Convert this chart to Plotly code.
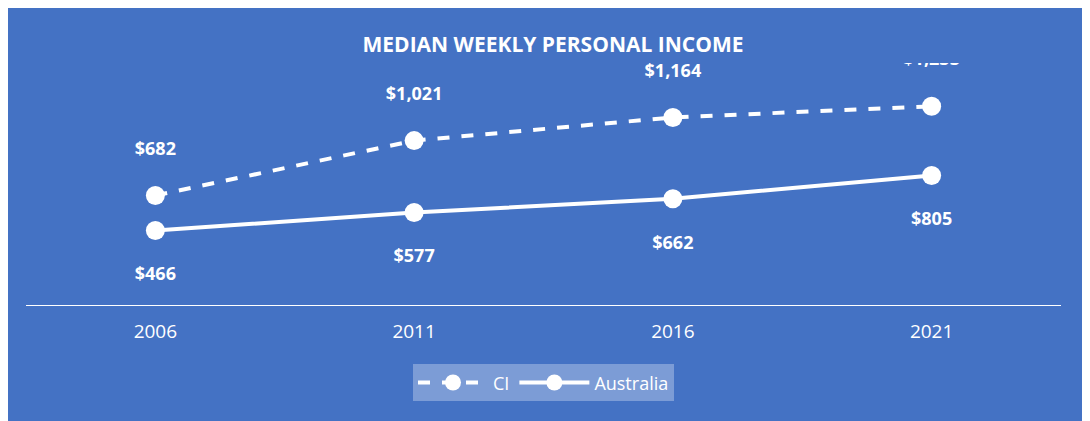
import plotly.graph_objects as go

years = ['2006', '2011', '2016', '2021']
ci = [682, 1021, 1164, 1233]
australia = [466, 577, 662, 805]

BG = '#4472C4'
fnt = 'Open Sans'
fig = go.Figure()
fig.add_trace(go.Scatter(x=[0, 1, 2, 3], y=ci, name='CI', mode='lines+markers+text',
                         line=dict(color='white', width=4, dash='dash'),
                         marker=dict(size=19, color='white'),
                         text=['$' + format(v, ',') for v in ci], textposition='top center',
                         texttemplate='<b>%{text}</b><br><span style="font-size:9px"> </span>',
                         textfont=dict(size=18, color='white', family=fnt)))
fig.add_trace(go.Scatter(x=[0, 1, 2, 3], y=australia, name='Australia', mode='lines+markers+text',
                         line=dict(color='white', width=4),
                         marker=dict(size=19, color='white'),
                         text=['$' + format(v, ',') for v in australia], textposition='bottom center',
                         texttemplate='<span style="font-size:9px"> </span><br><b>%{text}</b>',
                         textfont=dict(size=18, color='white', family=fnt)))
fig.update_layout(
    width=1090, height=421, paper_bgcolor=BG, plot_bgcolor=BG,
    margin=dict(l=18, r=37, t=55, b=123),
    title=dict(text='<b>MEDIAN WEEKLY PERSONAL INCOME</b>', x=0.5, y=0.93, xanchor='center',
               font=dict(family=fnt, size=21, color='white')),
    xaxis=dict(range=[-0.5, 3.5], tickvals=[0, 1, 2, 3], ticktext=years, showgrid=False,
               zeroline=False, showline=False, tickfont=dict(size=19, color='white', family=fnt),
               ticklabelstandoff=12),
    yaxis=dict(range=[0, 1500], visible=False, showgrid=False),
    legend=dict(orientation='h', x=0.5, xanchor='center', y=-0.24, yanchor='top',
                bgcolor='rgba(255,255,255,0.3)', font=dict(size=18, color='white', family=fnt),
                itemwidth=70, traceorder='normal'),
    shapes=[dict(type='line', xref='paper', yref='y', x0=0, x1=1, y0=0, y1=0,
                 line=dict(color='white', width=2))],
)
fig.write_html('out.html')
